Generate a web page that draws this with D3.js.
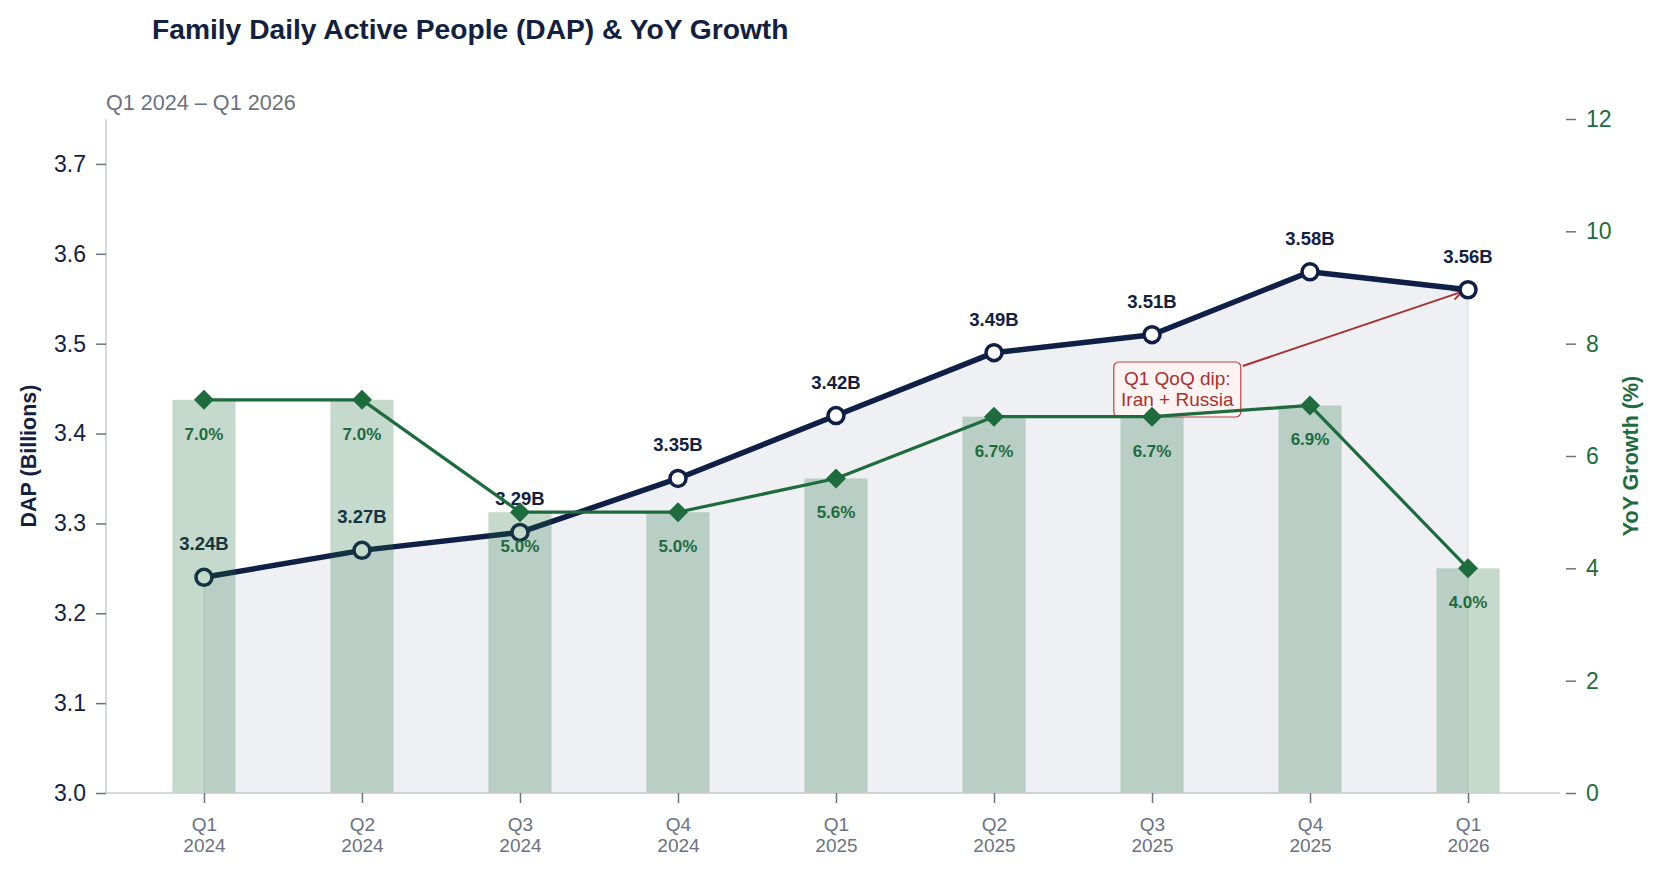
<!DOCTYPE html>
<html><head><meta charset="utf-8">
<script src="https://cdn.jsdelivr.net/npm/d3@7"></script>
<style>
html,body{margin:0;padding:0;background:#fff;}
svg{display:block;font-family:"Liberation Sans",Arial,sans-serif;}
</style></head>
<body>
<svg id="chart" width="1664" height="875"></svg>
<script>
const categories = ["Q1 2024","Q2 2024","Q3 2024","Q4 2024","Q1 2025","Q2 2025","Q3 2025","Q4 2025","Q1 2026"];
const dapValues = [3.24, 3.27, 3.29, 3.35, 3.42, 3.49, 3.51, 3.58, 3.56];
const yoyValues = [7.0, 7.0, 5.0, 5.0, 5.6, 6.7, 6.7, 6.9, 4.0];
const leftTicks = [3.0, 3.1, 3.2, 3.3, 3.4, 3.5, 3.6, 3.7];
const rightTicks = [0, 2, 4, 6, 8, 10, 12];
const titleText = "Family Daily Active People (DAP) & YoY Growth";
const subtitleText = "Q1 2024 \u2013 Q1 2026";
const annotationLines = ["Q1 QoQ dip:", "Iran + Russia"];
const annotationAnchor = {index: 6.16, value: 3.449};

const NAVY = "#0f1f45", NAVY_TXT = "#13213f", GREEN = "#1e6b3e", GRAY = "#6b7280", AXIS = "#c9ccd2", RED = "#a63232";
const FONT = '"Liberation Sans",Arial,sans-serif';

const svg = d3.select("#chart");
const L = 106, R = 1566, T = 119, B = 793;

const x = d3.scalePoint().domain(categories).range([L, R]).padding(0.62);
const yL = d3.scaleLinear().domain([3.0, 3.75]).range([B, T]);
const yR = d3.scaleLinear().domain([0, 12]).range([B, T]);
const step = x.step();
const barW = step * 0.4;

// title + subtitle
svg.append("text").attr("x", 152).attr("y", 39).attr("font-size", 28.2).attr("font-weight", "bold")
  .attr("fill", NAVY_TXT).text(titleText);
svg.append("text").attr("x", L).attr("y", 110).attr("font-size", 21.6).attr("fill", GRAY).text(subtitleText);

// area under DAP
const data = categories.map((c, i) => ({c, dap: dapValues[i], yoy: yoyValues[i]}));
svg.append("path").datum(data)
  .attr("d", d3.area().x(d => x(d.c)).y0(B).y1(d => yL(d.dap)))
  .attr("fill", NAVY).attr("fill-opacity", 0.065)
  .attr("stroke", NAVY).attr("stroke-opacity", 0.08).attr("stroke-width", 1.5);

// annotation (on primary axis layer)
const ax = x(categories[Math.floor(annotationAnchor.index)]) + (annotationAnchor.index % 1) * step;
const ay = yL(annotationAnchor.value);
const boxW = 127, boxH = 55;
const defs = svg.append("defs");
defs.append("marker").attr("id", "arr").attr("viewBox", "0 0 12 12").attr("refX", 11).attr("refY", 6)
  .attr("markerWidth", 12).attr("markerHeight", 12).attr("markerUnits", "userSpaceOnUse").attr("orient", "auto")
  .append("path").attr("d", "M1,1 L11,6 L1,11").attr("fill", "none").attr("stroke", RED).attr("stroke-width", 1.8);
const tgtX = x(categories[categories.length - 1]), tgtY = yL(dapValues[dapValues.length - 1]);
const sx = ax + boxW / 2 + 2, sy = ay - boxH / 2 + 4;
const ang = Math.atan2(tgtY - sy, tgtX - sx);
svg.append("line").attr("x1", sx).attr("y1", sy)
  .attr("x2", tgtX - 6 * Math.cos(ang)).attr("y2", tgtY - 6 * Math.sin(ang))
  .attr("stroke", RED).attr("stroke-width", 2).attr("marker-end", "url(#arr)");
svg.append("rect").attr("x", ax - boxW / 2).attr("y", ay - boxH / 2).attr("width", boxW).attr("height", boxH)
  .attr("rx", 5).attr("fill", "#fdf3f3").attr("stroke", "#b54848").attr("stroke-width", 1.2);
annotationLines.forEach((t, i) => {
  svg.append("text").attr("x", ax).attr("y", ay - 4 + (i * 21)).attr("text-anchor", "middle")
    .attr("font-size", 19).attr("fill", RED).text(t);
});

// DAP line + markers + labels
svg.append("path").datum(data)
  .attr("d", d3.line().x(d => x(d.c)).y(d => yL(d.dap)))
  .attr("fill", "none").attr("stroke", NAVY).attr("stroke-width", 5.5).attr("stroke-linejoin", "round");
svg.selectAll(".dapPt").data(data).enter().append("circle")
  .attr("cx", d => x(d.c)).attr("cy", d => yL(d.dap)).attr("r", 8)
  .attr("fill", "#fff").attr("stroke", NAVY).attr("stroke-width", 3.5);
svg.selectAll(".dapLbl").data(data).enter().append("text")
  .attr("x", d => x(d.c)).attr("y", d => yL(d.dap) - 27).attr("text-anchor", "middle")
  .attr("font-size", 18.5).attr("font-weight", "bold").attr("fill", NAVY_TXT)
  .text(d => d.dap.toFixed(2) + "B");

// secondary layer: bars, yoy line, diamonds, labels
svg.selectAll(".bar").data(data).enter().append("rect")
  .attr("x", d => x(d.c) - barW / 2).attr("width", barW)
  .attr("y", d => yR(d.yoy)).attr("height", d => B - yR(d.yoy))
  .attr("fill", GREEN).attr("fill-opacity", 0.26);
svg.append("path").datum(data)
  .attr("d", d3.line().x(d => x(d.c)).y(d => yR(d.yoy)))
  .attr("fill", "none").attr("stroke", GREEN).attr("stroke-width", 3.2).attr("stroke-linejoin", "round");
svg.selectAll(".dia").data(data).enter().append("path")
  .attr("d", "M0,-10 L10,0 L0,10 L-10,0 Z")
  .attr("transform", d => `translate(${x(d.c)},${yR(d.yoy)})`)
  .attr("fill", GREEN);
svg.selectAll(".yoyLbl").data(data).enter().append("text")
  .attr("x", d => x(d.c)).attr("y", d => yR(d.yoy) + 40).attr("text-anchor", "middle")
  .attr("font-size", 17).attr("font-weight", "bold").attr("fill", GREEN)
  .text(d => d.yoy.toFixed(1) + "%");

// axes
const gL = svg.append("g").attr("transform", `translate(${L},0)`)
  .call(d3.axisLeft(yL).tickValues(leftTicks).tickFormat(d3.format(".1f")).tickSize(10).tickPadding(10));
gL.select(".domain").attr("d", `M0,${T}V${B}`).attr("stroke", AXIS).attr("stroke-width", 1.5);
gL.selectAll(".tick line").attr("stroke", GRAY).attr("stroke-width", 1.5);
gL.selectAll(".tick text").attr("font-size", 23).attr("fill", NAVY_TXT).attr("font-family", FONT);

const gR = svg.append("g").attr("transform", `translate(${R},0)`)
  .call(d3.axisRight(yR).tickValues(rightTicks).tickSize(10).tickPadding(10));
gR.select(".domain").remove();
gR.selectAll(".tick line").attr("stroke", GRAY).attr("stroke-width", 1.5);
gR.selectAll(".tick text").attr("font-size", 23).attr("fill", GREEN).attr("font-family", FONT);

const gX = svg.append("g").attr("transform", `translate(0,${B})`)
  .call(d3.axisBottom(x).tickSize(10).tickPadding(6).tickFormat(() => ""));
gX.select(".domain").attr("d", `M${L},0H${R - 6}`).attr("stroke", AXIS).attr("stroke-width", 1.5);
gX.selectAll(".tick line").attr("stroke", GRAY).attr("stroke-width", 1.5);
gX.selectAll(".tick text").each(function(d) {
  const parts = d.split(" ");
  const t = d3.select(this).text(null).attr("font-size", 19).attr("fill", GRAY)
    .attr("font-family", FONT).attr("dy", null);
  parts.forEach((p, i) => t.append("tspan").attr("x", 0).attr("dy", i === 0 ? "21.5px" : "21.5px").text(p));
});

// axis titles
svg.append("text").attr("transform", `translate(36,${(T + B) / 2}) rotate(-90)`).attr("text-anchor", "middle")
  .attr("font-size", 21.5).attr("font-weight", "bold").attr("fill", NAVY_TXT).text("DAP (Billions)");
svg.append("text").attr("transform", `translate(1638,${(T + B) / 2}) rotate(-90)`).attr("text-anchor", "middle")
  .attr("font-size", 21.5).attr("font-weight", "bold").attr("fill", GREEN).text("YoY Growth (%)");
</script>
</body></html>
